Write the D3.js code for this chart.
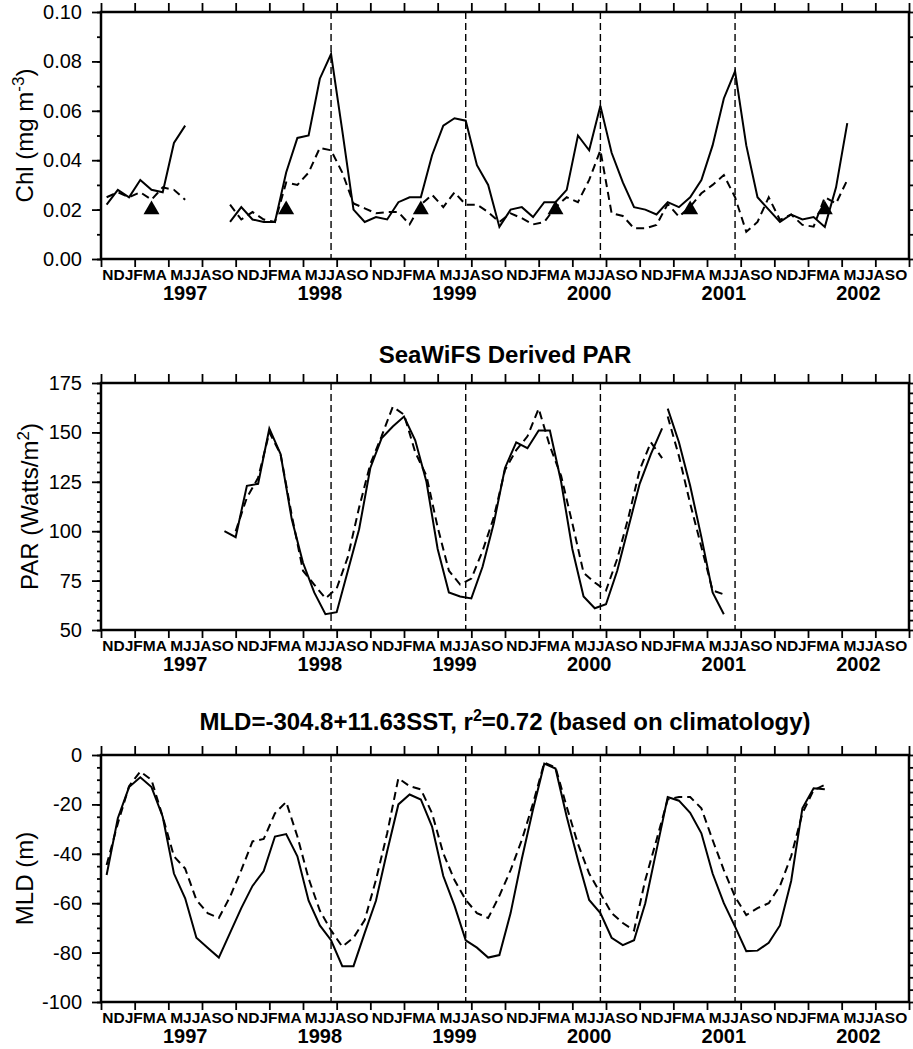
<!DOCTYPE html>
<html>
<head>
<meta charset="utf-8">
<script src="https://cdn.jsdelivr.net/npm/d3@7"></script>
<style>
  body { margin: 0; background: #fff; }
  svg { display: block; font-family: "Liberation Sans", Arial, Helvetica, sans-serif; }
</style>
</head>
<body>
<div id="chart"></div>
<script>
// time axis: 72 months, Nov 1996 - Oct 2002
const firstMonth = "1996-11";
const monthCount = 72;
const halfYearLabels = ["NDJFMA", "MJJASO"];
const yearLabels = ["1997", "1998", "1999", "2000", "2001", "2002"];
const julyMarkers = ["1998-07", "1999-07", "2000-07", "2001-07"];

// Chl (mg m-3), one value per month from Nov 1996, plotted mid-month
const chlSat = [
  0.022, 0.028, 0.025, 0.032, 0.028, 0.027, 0.047, 0.054, null, null, null, 0.015,
  0.021, 0.016, 0.015, 0.015, 0.035, 0.049, 0.050, 0.073, 0.083, 0.052, 0.020, 0.015,
  0.017, 0.016, 0.023, 0.025, 0.025, 0.042, 0.054, 0.057, 0.056, 0.038, 0.030, 0.013,
  0.020, 0.021, 0.017, 0.023, 0.023, 0.028, 0.050, 0.044, 0.062, 0.043, 0.031, 0.021,
  0.020, 0.018, 0.023, 0.021, 0.025, 0.032, 0.046, 0.065, 0.076, 0.046, 0.025, 0.020,
  0.015, 0.018, 0.016, 0.017, 0.013, 0.029, 0.055, null, null, null, null, null
];
const chlModel = [
  0.025, 0.027, 0.025, 0.027, 0.024, 0.029, 0.028, 0.024, null, null, null, 0.022,
  0.016, 0.019, 0.016, 0.015, 0.031, 0.030, 0.035, 0.045, 0.044, 0.035, 0.0225, 0.0205,
  0.0185, 0.019, 0.019, 0.014, 0.022, 0.026, 0.021, 0.027, 0.022, 0.022, 0.019, 0.015,
  0.0185, 0.0165, 0.014, 0.015, 0.021, 0.025, 0.023, 0.032, 0.044, 0.0185, 0.0174, 0.0124,
  0.0124, 0.0138, 0.0223, 0.0171, 0.0212, 0.0266, 0.030, 0.034, 0.025, 0.011, 0.015, 0.025,
  0.0158, 0.018, 0.0138, 0.0131, 0.025, 0.0225, 0.032, null, null, null, null, null
];
const bloomMonths = ["1997-03", "1998-03", "1999-03", "2000-03", "2001-03", "2002-03"];
const bloomLevel = 0.02;

// SeaWiFS PAR (Watts/m2): first record on the 1st of each month
const parStart1 = "1997-10";
const parSat1 = [
  100, 97, 123, 124, 152, 139, 106, 84, 69, 58, 59, 80, 101, 132, 147, 153, 158, 146, 125, 91,
  69, 67, 66, 82, 104, 132, 145, 142, 151, 151, 125, 91, 67, 61, 63, 80, 102, 124, 139, 152
];
const parClim1 = [
  null, 100, 117, 127, 150, 139, 108, 80, 73, 66, 71, 87, 112, 134, 148, 163, 159, 140, 128, 102,
  80, 73, 76, 90, 107, 131, 141, 148, 162, 143, 128, 104, 79, 74, 70, 86, 107, 131, 145, 137
];
// second record, mid-month
const parStart2 = "2001-01";
const parSat2 = [162, 145, 123, 97, 69, 58];
const parClim2 = [158, 138, 114, 92, 70, 68];

// MLD (m), monthly from Nov 1996, plotted mid-month
const mldSat = [
  -48.6, -25.6, -13, -9, -13, -25, -48, -58, -74, -78, -82, -72,
  -62, -53, -47, -33, -32, -41, -59, -69, -75, -85.5, -85.5, -72,
  -59, -39, -20, -16, -18, -29, -49, -61, -75, -78, -82, -81,
  -64, -42, -22, -3.5, -5.5, -25, -42.5, -58.7, -64, -74, -77, -75,
  -60, -38.5, -17, -18.5, -23.4, -31.7, -48, -60, -69.5, -79.4, -79.2, -76,
  -69, -51, -21.6, -13.5, -13.9
];
const mldClim = [
  -44.5, -27.7, -12.6, -6.7, -10.1, -25, -41, -46, -58.7, -64, -66, -57.4,
  -46.6, -35, -34, -23.6, -19, -33, -50, -63, -71, -77.6, -74, -66.8,
  -50.6, -31.7, -9.4, -12.6, -13.9, -23.6, -39.8, -50.6, -58.7, -64, -66, -57,
  -46.6, -34.4, -19.6, -3.1, -5, -21, -36, -48, -56, -64, -68, -71,
  -50.6, -34.4, -18, -17, -17, -21.6, -34.4, -46.6, -57.4, -64.8, -62, -60,
  -53, -41, -23.6, -14.2, -12.1
];

const chlTicks = [0, 0.02, 0.04, 0.06, 0.08, 0.10];
const parTicks = [50, 75, 100, 125, 150, 175];
const mldTicks = [0, -20, -40, -60, -80, -100];

// layout
const W = 913, H = 1049;
const left = 101, right = 909, plotH = 247;

const monthPos = m => {
    const [yy, mm] = m.split("-").map(Number);
    const [y0, m0] = firstMonth.split("-").map(Number);
    return (yy - y0) * 12 + (mm - m0);
};

const x = d3.scaleLinear().domain([0, monthCount]).range([left, right]);
const quarterTicks = d3.range(0, monthCount + 1, 3);

// turn a value array into points; offset 0.5 = mid-month, 0 = start of month
const toPoints = (values, start, offset) =>
    values.map((v, i) => ({ t: monthPos(start) + i + offset, v }));

const svg = d3.select("#chart").append("svg")
    .attr("width", W)
    .attr("height", H)
    .attr("viewBox", `0 0 ${W} ${H}`);

function styleAxis(g, fontSize) {
    g.select(".domain").remove();
    g.attr("font-family", null).attr("font-size", fontSize);
    g.selectAll(".tick line").attr("stroke", "#000").attr("stroke-width", 1.8);
    g.selectAll(".tick text").attr("fill", "#000");
}

// text made of plain and superscript parts
function richText(t, parts, supSize, shift) {
    parts.forEach(p => {
        t.append("tspan")
            .attr("font-size", p.sup ? supSize : null)
            .attr("dy", p.sup ? -shift : p.down ? shift : null)
            .text(p.s);
    });
}

function drawPanel(cfg) {
    const top = cfg.top, bottom = cfg.top + plotH;
    const y = d3.scaleLinear().domain(cfg.domain).range([bottom, top]);
    const g = svg.append("g");

    // title
    if (cfg.title) {
        const t = g.append("text")
            .attr("x", (left + right) / 2)
            .attr("y", cfg.titleY)
            .attr("text-anchor", "middle")
            .attr("font-size", 24)
            .attr("font-weight", "bold");
        richText(t, cfg.title, 16, 9);
    }

    // July markers
    g.selectAll(".marker")
        .data(julyMarkers)
        .enter().append("line")
        .attr("class", "marker")
        .attr("x1", d => x(monthPos(d) + 0.5))
        .attr("x2", d => x(monthPos(d) + 0.5))
        .attr("y1", top)
        .attr("y2", bottom)
        .attr("stroke", "#000")
        .attr("stroke-width", 1.4)
        .attr("stroke-dasharray", "7,4");

    const line = d3.line()
        .defined(d => d.v != null)
        .x(d => x(d.t))
        .y(d => y(d.v));

    cfg.series.forEach(s => {
        g.append("path")
            .datum(s.points)
            .attr("d", line)
            .attr("fill", "none")
            .attr("stroke", "#000")
            .attr("stroke-width", 2)
            .attr("stroke-dasharray", s.dashed ? "8,5" : null);
    });

    if (cfg.markers) cfg.markers(g, y);

    // axes
    g.append("g")
        .attr("transform", `translate(${left},0)`)
        .call(d3.axisLeft(y).tickValues(cfg.ticks).tickSize(9).tickPadding(10).tickFormat(cfg.format))
        .call(a => styleAxis(a, 20));

    g.append("g")
        .attr("transform", `translate(${left},0)`)
        .call(d3.axisLeft(y).tickValues(cfg.minor).tickSize(4).tickFormat(""))
        .call(a => styleAxis(a, 10));

    g.append("g")
        .attr("transform", `translate(${right},0)`)
        .call(d3.axisRight(y).tickValues(cfg.minor).tickSize(4).tickFormat(""))
        .call(a => styleAxis(a, 10));

    g.append("g")
        .attr("transform", `translate(0,${top})`)
        .call(d3.axisTop(x).tickValues(quarterTicks).tickSize(9).tickFormat(""))
        .call(a => styleAxis(a, 10));

    g.append("g")
        .attr("transform", `translate(0,${bottom})`)
        .call(d3.axisBottom(x).tickValues(quarterTicks).tickSize(8).tickFormat(""))
        .call(a => styleAxis(a, 10));

    // frame
    g.append("rect")
        .attr("x", left)
        .attr("y", top)
        .attr("width", right - left)
        .attr("height", plotH)
        .attr("fill", "none")
        .attr("stroke", "#000")
        .attr("stroke-width", 2.5);

    // month initials and years
    g.selectAll(".half")
        .data(d3.range(monthCount / 6))
        .enter().append("text")
        .attr("x", k => x(k * 6 + 3))
        .attr("y", bottom + 21)
        .attr("text-anchor", "middle")
        .attr("font-size", 15.5)
        .attr("font-weight", "bold")
        .text(k => halfYearLabels[k % 2]);

    g.selectAll(".year")
        .data(yearLabels)
        .enter().append("text")
        .attr("x", (d, j) => x(j * 12 + 7.5))
        .attr("y", bottom + 41)
        .attr("text-anchor", "middle")
        .attr("font-size", 20)
        .attr("font-weight", "bold")
        .text(d => d);

    // y label
    const yl = g.append("text")
        .attr("transform", `translate(${cfg.ylabelX},${top + plotH / 2}) rotate(-90)`)
        .attr("text-anchor", "middle")
        .attr("font-size", 24);
    richText(yl, cfg.ylabel, 17, 9);
}

drawPanel({
    top: 12,
    domain: [0, 0.1],
    ticks: chlTicks,
    minor: d3.range(0, 0.1001, 0.01),
    format: d3.format(".2f"),
    ylabelX: 33,
    ylabel: [{ s: "Chl (mg m" }, { s: "-3", sup: true }, { s: ")", down: true }],
    series: [
        { points: toPoints(chlSat, firstMonth, 0.5) },
        { points: toPoints(chlModel, firstMonth, 0.5), dashed: true }
    ],
    markers: (g, y) => {
        g.selectAll(".bloom")
            .data(bloomMonths)
            .enter().append("path")
            .attr("class", "bloom")
            .attr("d", d3.symbol(d3.symbolTriangle, 110))
            .attr("transform", d => `translate(${x(monthPos(d) + 0.5)},${y(bloomLevel)})`)
            .attr("fill", "#000");
    }
});

drawPanel({
    top: 383,
    titleY: 363,
    title: [{ s: "SeaWiFS Derived PAR" }],
    domain: [50, 175],
    ticks: parTicks,
    minor: d3.range(50, 176, 5),
    format: d => String(d),
    ylabelX: 38,
    ylabel: [{ s: "PAR (Watts/m" }, { s: "2", sup: true }, { s: ")", down: true }],
    series: [
        { points: toPoints(parSat1, parStart1, 0) },
        { points: toPoints(parClim1, parStart1, 0), dashed: true },
        { points: toPoints(parSat2, parStart2, 0.5) },
        { points: toPoints(parClim2, parStart2, 0.5), dashed: true }
    ]
});

drawPanel({
    top: 755,
    titleY: 730,
    title: [{ s: "MLD=-304.8+11.63SST, r" }, { s: "2", sup: true }, { s: "=0.72 (based on climatology)", down: true }],
    domain: [-100, 0],
    ticks: mldTicks,
    minor: d3.range(-100, 1, 5),
    format: d => String(d),
    ylabelX: 33,
    ylabel: [{ s: "MLD (m)" }],
    series: [
        { points: toPoints(mldSat, firstMonth, 0.5) },
        { points: toPoints(mldClim, firstMonth, 0.5), dashed: true }
    ]
});
</script>
</body>
</html>
